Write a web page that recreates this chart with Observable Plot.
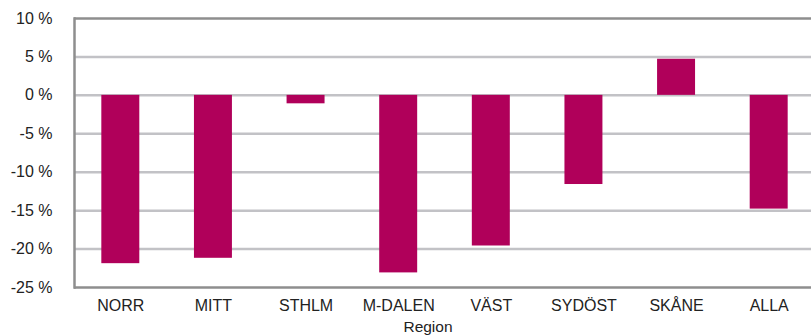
<!DOCTYPE html>
<html>
<head>
<meta charset="utf-8">
<script src="https://cdn.jsdelivr.net/npm/d3@7"></script>
<script src="https://cdn.jsdelivr.net/npm/@observablehq/plot@0.6"></script>
<style>
  html, body { margin: 0; padding: 0; background: #fff; }
  #chart svg { display: block; }
</style>
</head>
<body>
<div id="chart"></div>
<script>
// Change per region, in percent
const regions = ["NORR", "MITT", "STHLM", "M-DALEN", "VÄST", "SYDÖST", "SKÅNE", "ALLA"];
const change = [-21.9, -21.2, -1.1, -23.1, -19.6, -11.6, 4.7, -14.8];
const yTicks = [-25, -20, -15, -10, -5, 0, 5, 10];
const xLabel = "Region";

const data = regions.map((r, i) => ({region: r, value: change[i]}));
const inner = yTicks.filter(t => t > -25 && t < 10);

const chart = Plot.plot({
  width: 811,
  height: 336,
  marginLeft: 74,
  marginRight: 0,
  marginTop: 18,
  marginBottom: 49,
  style: {fontFamily: "'Liberation Sans', Arial, Helvetica, sans-serif", fontSize: "16px", color: "#222"},
  // the last band runs a little past the right edge of the svg
  x: {domain: regions, range: [74, 815], round: false, paddingInner: 0.59, paddingOuter: 0.295},
  y: {domain: [-25, 10]},
  marks: [
    Plot.ruleY(inner, {stroke: "#c2c2c6", strokeWidth: 2.5}),
    Plot.barY(data, {x: "region", y: "value", fill: "#b0005a"}),
    Plot.ruleY([-25, 10], {stroke: "#8e8e8e", strokeWidth: 2.5}),
    Plot.frame({anchor: "left", stroke: "#8e8e8e", strokeWidth: 2.5}),
    Plot.axisY({ticks: yTicks, tickSize: 0, tickPadding: 22, tickFormat: d => `${d} %`, label: null, fontSize: 16}),
    Plot.axisX({tickSize: 0, tickPadding: 12, label: null, fontSize: 16}),
    Plot.text([xLabel], {frameAnchor: "bottom", dy: 44, dx: -15, fontSize: 15.5, fill: "#222"})
  ]
});

document.getElementById("chart").appendChild(chart);
</script>
</body>
</html>
